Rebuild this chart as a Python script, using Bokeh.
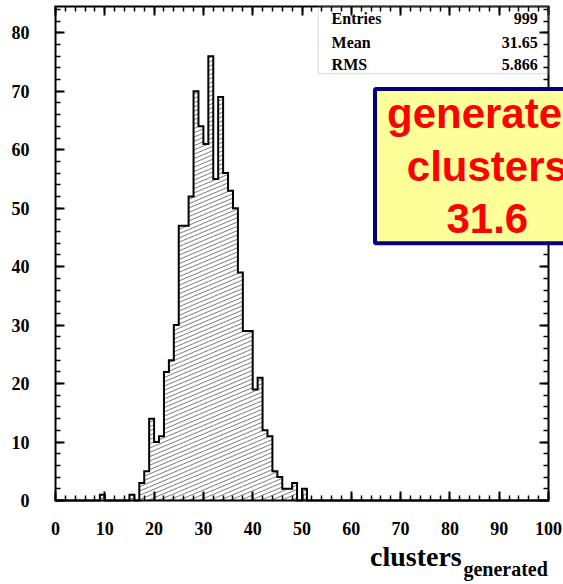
import numpy as np
from bokeh.plotting import figure
from bokeh.models import (Range1d, LinearAxis, FixedTicker, Label, BoxAnnotation,
                          CustomJSTickFormatter)
from bokeh.embed import file_html
from bokeh.resources import INLINE

# Histogram of generated clusters: lower edge of each filled unit-width bin and its entries
bin_low = [9, 15, 17, 18, 19, 20, 21, 22, 23, 24, 25, 26, 27, 28, 29, 30, 31, 32, 33,
           34, 35, 36, 37, 38, 39, 40, 41, 42, 43, 44, 45, 46, 47, 48, 50]
bin_count = [1, 1, 3, 5, 14, 10, 11, 22, 24, 30, 47, 47, 52, 70, 64, 61, 76, 55, 69,
             56, 53, 50, 39, 29, 29, 19, 21, 12, 11, 5, 4, 2, 2, 3, 2]
x_lo, x_hi, n_bins = 0, 100, 100
y_lo, y_hi = 0, 84.5

# axis ticks
x_major = list(range(0, 101, 10))
x_minor = list(range(0, 101, 2))
y_major = list(range(0, 81, 10))
y_minor = list(range(0, 85, 2))

# statistics box
stat_names = ["Entries", "Mean", "RMS"]
stat_values = ["999", "31.65", "5.866"]

# highlighted note
note_lines = ["generated", "clusters", "31.6"]

# axis title
title_main = "clusters"
title_sub = "generated"

edges = np.linspace(x_lo, x_hi, n_bins + 1)
counts = np.zeros(n_bins)
counts[np.array(bin_low) - x_lo] = bin_count

# canvas and the histogram box inside it (pixels)
W, H = 563, 584
box_l, box_r, box_t, box_b = 55, 548, 6, 500
ppx = (box_r - box_l) / (x_hi - x_lo)
ppy = (box_b - box_t) / (y_hi - y_lo)

p = figure(frame_width=W, frame_height=H,
           min_border=0,
           x_range=Range1d(x_lo - box_l / ppx, x_hi + (W - box_r) / ppx),
           y_range=Range1d(y_lo - (H - box_b) / ppy, y_hi + box_t / ppy),
           output_backend="svg", toolbar_location=None,
           x_axis_location=None, y_axis_location=None,
           background_fill_color="white", border_fill_color="white")
p.grid.visible = False
p.outline_line_color = None

# hatch: shallow diagonal lines clipped to each bin, aligned across bins
slope, gap = 0.42, 4.3
hx, hy = [], []
for lo, c in zip(edges[:-1], counts):
    if c <= 0:
        continue
    X0, X1, Hc = (lo - x_lo) * ppx, (lo + 1 - x_lo) * ppx, c * ppy
    k0 = int(np.floor(-slope * X1 / gap)) - 1
    k1 = int(np.ceil((Hc - slope * X0) / gap)) + 1
    for k in range(k0, k1 + 1):
        b = k * gap
        xs = max(X0, (0 - b) / slope)
        xe = min(X1, (Hc - b) / slope)
        if xe - xs > 0.05:
            hx.append([xs / ppx + x_lo, xe / ppx + x_lo])
            hy.append([(slope * xs + b) / ppy, (slope * xe + b) / ppy])
p.multi_line(hx, hy, line_color="#7a7a7a", line_width=1)

# histogram outline
p.step(edges, np.append(counts, counts[-1]), mode="after",
       line_color="black", line_width=2, line_join="miter")

# histogram frame
p.quad(left=[x_lo], right=[x_hi], bottom=[y_lo], top=[y_hi],
       fill_color=None, line_color="black", line_width=2, line_join="miter")


def make_axis(major, minor, where, labels, standoff=0):
    ax = LinearAxis(ticker=FixedTicker(ticks=major, minor_ticks=minor), fixed_location=where)
    ax.axis_line_color = None
    ax.major_tick_in, ax.major_tick_out = 9, 0
    ax.minor_tick_in, ax.minor_tick_out = 5, 0
    ax.major_tick_line_width = 2
    ax.minor_tick_line_width = 1.5
    if labels:
        ax.major_label_text_font = "Liberation Serif"
        ax.major_label_text_font_style = "bold"
        ax.major_label_text_font_size = "18px"
        ax.major_label_text_color = "black"
        ax.major_label_standoff = standoff
    else:
        ax.formatter = CustomJSTickFormatter(code="return ''")
        ax.major_label_standoff = 0
    return ax


p.add_layout(make_axis(x_major, x_minor, y_lo, True, 21), "below")
p.add_layout(make_axis(y_major, y_minor, x_lo, True, 26), "left")
p.add_layout(make_axis(x_major, x_minor, y_hi, False), "above")
p.add_layout(make_axis(y_major, y_minor, x_hi, False), "right")

# axis title with subscript
p.add_layout(Label(x=82.4, y=-9.6, text=title_main, text_align="right",
                   text_baseline="alphabetic", text_font="Liberation Serif",
                   text_font_style="bold", text_font_size="28px", text_color="black"))
p.add_layout(Label(x=82.75, y=-11.7, text=title_sub, text_align="left",
                   text_baseline="alphabetic", text_font="Liberation Serif",
                   text_font_style="bold", text_font_size="20px", text_color="black"))

# statistics box
p.add_layout(BoxAnnotation(left=53.3, right=x_hi, bottom=73.0, top=y_hi,
                           fill_alpha=0, line_color="#808080", line_width=1))
rows_y = [82.4, 78.3, 74.5]
for name, val, yy in zip(stat_names, stat_values, rows_y):
    p.add_layout(Label(x=56.0, y=yy, text=name, text_align="left", text_baseline="middle",
                       text_font="Liberation Serif", text_font_style="bold",
                       text_font_size="16px", text_color="black"))
    p.add_layout(Label(x=97.8, y=yy, text=val, text_align="right", text_baseline="middle",
                       text_font="Liberation Serif", text_font_style="bold",
                       text_font_size="16px", text_color="black"))

# highlighted note
p.add_layout(Label(x=87.6, y=57.2, text="\n".join(note_lines), text_align="center",
                   text_baseline="middle", text_font="Liberation Sans",
                   text_font_style="bold", text_font_size="42px", text_color="#ff0000",
                   text_line_height=1.12,
                   background_fill_color="#ffff99", border_line_color="#000080",
                   border_line_width=4, padding=(12, 1)))

open("out.html", "w").write(file_html(p, INLINE))
